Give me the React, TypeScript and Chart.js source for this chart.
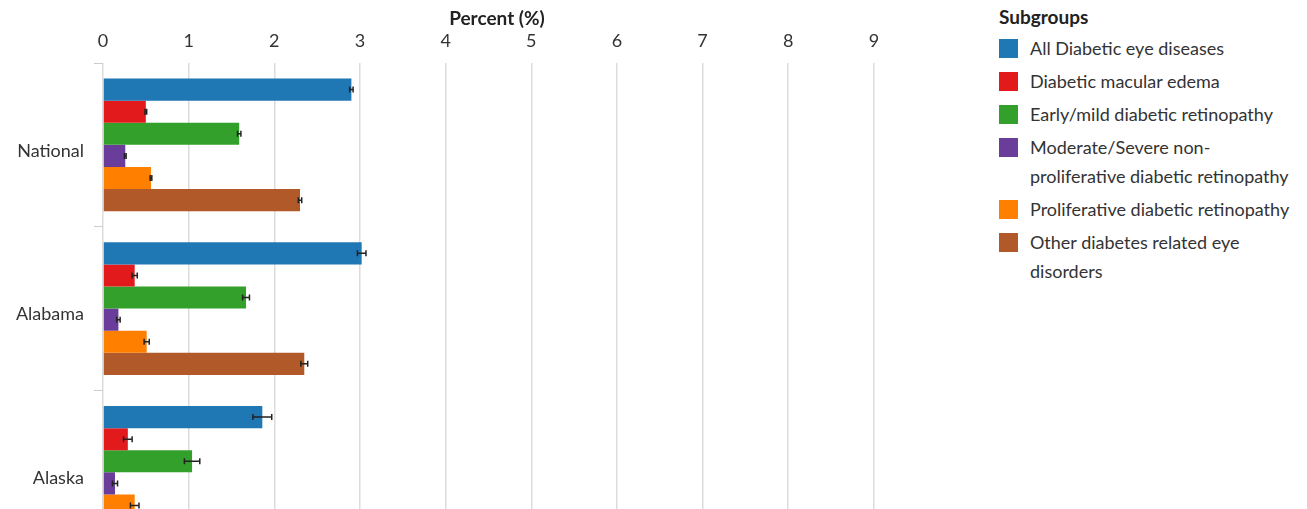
import React, { useEffect, useRef } from "react";
import { Chart, registerables } from "chart.js";

Chart.register(...registerables);

const categories = ["National", "Alabama", "Alaska"];
const xTicks = [0, 1, 2, 3, 4, 5, 6, 7, 8, 9];

const seriesLabels = [
  "All Diabetic eye diseases",
  "Diabetic macular edema",
  "Early/mild diabetic retinopathy",
  "Moderate/Severe non-proliferative diabetic retinopathy",
  "Proliferative diabetic retinopathy",
  "Other diabetes related eye disorders",
];
const seriesColors = ["#1f77b4", "#e31a1c", "#33a02c", "#6a3d9a", "#ff7f00", "#b15928"];

const allDiabetic = [2.9, 3.02, 1.86];
const macularEdema = [0.5, 0.37, 0.29];
const earlyMild = [1.59, 1.67, 1.04];
const moderateSevere = [0.26, 0.18, 0.14];
const proliferative = [0.56, 0.51, 0.37];
const otherDisorders = [2.3, 2.35, 1.45];

const allDiabeticErr = [0.02, 0.05, 0.11];
const macularEdemaErr = [0.01, 0.03, 0.05];
const earlyMildErr = [0.02, 0.04, 0.09];
const moderateSevereErr = [0.01, 0.02, 0.03];
const proliferativeErr = [0.01, 0.03, 0.05];
const otherDisordersErr = [0.02, 0.04, 0.09];

const seriesValues = [allDiabetic, macularEdema, earlyMild, moderateSevere, proliferative, otherDisorders];
const seriesErrors = [allDiabeticErr, macularEdemaErr, earlyMildErr, moderateSevereErr, proliferativeErr, otherDisordersErr];

const FONT = "Lato, 'Open Sans', sans-serif";

const errorBarPlugin = {
  id: "errorBars",
  afterDatasetsDraw(chart: any) {
    const ctx = chart.ctx;
    const xScale = chart.scales.x;
    ctx.save();
    ctx.strokeStyle = "#222";
    ctx.lineWidth = 1.5;
    chart.data.datasets.forEach((ds: any, di: number) => {
      const meta = chart.getDatasetMeta(di);
      const errs = seriesErrors[di];
      meta.data.forEach((bar: any, i: number) => {
        const v = ds.data[i];
        const e = errs[i];
        const x1 = xScale.getPixelForValue(v - e);
        const x2 = xScale.getPixelForValue(v + e);
        const y = bar.y;
        const cap = 3;
        ctx.beginPath();
        ctx.moveTo(x1, y);
        ctx.lineTo(x2, y);
        ctx.moveTo(x1, y - cap);
        ctx.lineTo(x1, y + cap);
        ctx.moveTo(x2, y - cap);
        ctx.lineTo(x2, y + cap);
        ctx.stroke();
      });
    });
    ctx.restore();
  },
};

export default function App() {
  const canvasRef = useRef<HTMLCanvasElement | null>(null);

  useEffect(() => {
    if (!canvasRef.current) return;
    const chart = new Chart(canvasRef.current, {
      type: "bar",
      data: {
        labels: categories,
        datasets: seriesLabels.map((label, i) => ({
          label,
          data: seriesValues[i],
          backgroundColor: seriesColors[i],
          borderWidth: 0,
          categoryPercentage: 0.81,
          barPercentage: 1.0,
        })),
      },
      options: {
        indexAxis: "y",
        animation: false,
        responsive: false,
        devicePixelRatio: 1,
        layout: { padding: { left: 0, right: 15, top: 0, bottom: 0 } },
        plugins: {
          legend: { display: false },
          tooltip: { enabled: false },
        },
        scales: {
          x: {
            type: "linear",
            position: "top",
            min: 0,
            max: 9.2,
            afterBuildTicks: (scale: any) => {
              scale.ticks = xTicks.map((v) => ({ value: v }));
            },
            afterFit: (scale: any) => {
              scale.height = 63;
            },
            ticks: {
              padding: 11,
              color: "#333",
              font: { family: FONT, size: 18 },
            },
            grid: { color: "#dcdcdc", lineWidth: 1.5, drawTicks: false },
            border: { display: false },
            title: {
              display: true,
              text: "Percent (%)",
              color: "#222",
              font: { family: FONT, size: 19, weight: "bold" },
              padding: { top: 7, bottom: 0 },
            },
          },
          y: {
            position: "left",
            afterFit: (scale: any) => {
              scale.width = 103;
            },
            ticks: {
              padding: 10,
              labelOffset: 6,
              color: "#333",
              font: { family: FONT, size: 18 },
            },
            grid: {
              display: true,
              drawOnChartArea: false,
              drawTicks: true,
              tickLength: 9,
              color: "#cccccc",
              offset: true,
            },
            border: { display: false },
          },
        },
      },
      plugins: [errorBarPlugin],
    } as any);
    return () => chart.destroy();
  }, []);

  return (
    <div style={{ position: "fixed", inset: 0, overflow: "hidden", background: "#fff" }}>
      <canvas
        ref={canvasRef}
        width={906}
        height={575}
        style={{ position: "absolute", left: 0, top: 0, width: 906, height: 575 }}
      />
      <div style={{ position: "absolute", left: 999, top: 6, fontFamily: FONT }}>
        <div style={{ fontWeight: "bold", fontSize: 19, lineHeight: "22px", color: "#222" }}>Subgroups</div>
        <div style={{ marginTop: 6 }}>
          {seriesLabels.map((label, i) => (
            <div key={label} style={{ display: "flex", alignItems: "flex-start", marginBottom: 4 }}>
              <div
                style={{
                  width: 19,
                  height: 19,
                  background: seriesColors[i],
                  marginTop: 5,
                  flex: "0 0 auto",
                }}
              />
              <div
                style={{
                  marginLeft: 12,
                  width: 264,
                  fontSize: 18,
                  lineHeight: "29px",
                  color: "#333",
                }}
              >
                {label}
              </div>
            </div>
          ))}
        </div>
      </div>
    </div>
  );
}
